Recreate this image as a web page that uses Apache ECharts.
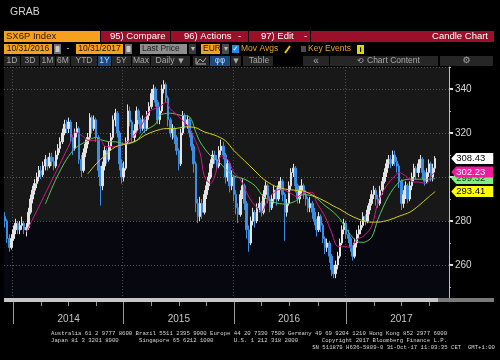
<!DOCTYPE html>
<html><head><meta charset="utf-8">
<script src="https://cdn.jsdelivr.net/npm/echarts@6/dist/echarts.min.js"></script>
<style>html,body{margin:0;padding:0;background:#000;}#c{width:500px;height:360px;}</style>
</head><body><div id="c"></div>
<script>
// Weekly categories (Friday of each week), Dec 2013 .. Dec 2017
const startWeek = Date.UTC(2013, 11, 6);
const weekCount = 210;
const weeks = [];
for (let i = 0; i < weekCount; i++) weeks.push(new Date(startWeek + i * 7 * 86400000).toISOString().slice(0, 10));

// SX6P Index weekly candles: [open, close, low, high]
const candles = [
[282,280,277,284],[280,272,270,281],[272,268,266,274],[268,272,267,274],[272,276,271,278],
[276,279,274,281],[279,276,274,280],[276,278,274,280],[278,279,276,282],[279,276,274,280],
[276,277,273,279],[277,284,276,286],[284,290,283,292],[290,294,288,296],[294,297,292,299],
[297,300,295,302],[300,303,298,305],[303,301,299,305],[301,305,300,307],[305,308,303,310],
[308,305,303,309],[305,309,304,311],[309,307,305,311],[307,305,303,309],[305,310,304,312],
[310,313,308,315],[313,316,311,318],[316,320,315,322],[320,324,319,326],[324,322,320,326],
[322,325,320,327],[325,318,316,326],[318,313,310,319],[313,320,312,322],[320,322,318,325],
[322,308,306,323],[308,303,300,310],[303,311,302,313],[311,315,309,317],[315,318,313,320],
[318,327,317,329],[327,322,320,328],[322,326,321,328],[326,318,316,327],[318,303,300,319],
[303,296,287,305],[296,305,294,307],[305,312,303,314],[312,308,306,313],[308,314,307,316],
[314,318,312,320],[318,326,317,328],[326,329,323,331],[329,320,318,330],[320,306,303,321],
[306,300,297,308],[300,304,298,307],[304,316,303,318],[316,330,315,333],[330,325,323,332],
[325,318,316,326],[318,321,316,324],[321,330,320,332],[330,326,324,331],[326,322,320,327],
[322,326,321,328],[326,322,320,327],[322,328,321,330],[328,332,326,334],[332,338,331,340],
[338,340,335,342],[340,334,332,341],[334,326,324,335],[326,330,324,332],[330,340,329,342],
[340,342,338,344],[342,336,334,343],[336,326,323,337],[326,320,318,327],[320,322,317,324],
[322,318,315,323],[318,312,310,319],[312,306,303,313],[306,320,305,322],[320,328,319,330],
[328,324,322,329],[324,326,322,328],[326,320,318,327],[320,314,312,321],[314,306,302,315],
[306,288,284,307],[288,282,279,290],[282,288,280,291],[288,284,281,290],[284,292,283,294],
[292,296,290,298],[296,300,294,302],[300,306,299,308],[306,310,304,312],[310,308,306,312],
[308,305,303,310],[305,312,304,314],[312,314,310,317],[314,310,308,316],[310,300,297,311],
[300,306,298,308],[306,296,293,307],[296,300,294,303],[300,292,289,301],[292,286,283,294],
[286,283,279,288],[283,292,282,294],[292,296,290,299],[296,288,285,297],[288,276,272,289],
[276,270,266,278],[270,280,269,282],[280,284,278,286],[284,280,277,285],[280,286,279,288],
[286,288,284,291],[288,284,282,289],[284,292,283,294],[292,296,290,298],[296,290,288,297],
[290,286,284,291],[286,290,285,292],[290,294,288,296],[294,290,287,295],[290,296,289,298],
[296,298,294,300],[298,292,289,299],[292,284,271,293],[284,288,282,290],[288,296,287,298],
[296,302,294,304],[302,304,300,306],[304,296,293,305],[296,290,288,297],[290,294,288,296],
[294,296,292,299],[296,292,290,297],[292,290,287,294],[290,286,284,291],[286,288,284,291],
[288,284,281,289],[284,280,278,286],[280,276,273,281],[276,282,275,284],[282,278,275,283],
[278,272,270,279],[272,268,265,273],[268,270,266,272],[270,264,261,271],[264,258,255,265],
[258,256,254,260],[256,260,254,262],[260,264,258,266],[264,270,263,272],[270,276,269,278],
[276,279,274,281],[279,274,272,280],[274,272,270,276],[272,268,266,273],[268,264,262,269],
[264,270,263,272],[270,274,268,276],[274,276,272,278],[276,278,274,280],[278,282,277,284],
[282,280,278,283],[280,285,279,287],[285,288,283,290],[288,292,287,294],[292,294,290,296],
[294,290,287,295],[290,288,286,292],[288,294,287,296],[294,298,292,300],[298,302,297,304],
[302,306,300,308],[306,308,304,310],[308,306,304,310],[306,310,305,312],[310,307,305,312],
[307,305,302,309],[305,298,295,306],[298,288,285,299],[288,292,286,294],[292,296,290,298],
[296,290,288,297],[290,296,289,298],[296,300,294,302],[300,304,298,306],[304,302,299,305],
[302,306,300,308],[306,308,304,310],[308,302,299,309],[302,298,296,303],[298,302,297,304],
[302,306,300,308],[306,300,298,307],[300,304,298,306],[304,308.43,302,309.5]
];

// Moving averages: [week index, value]
const maShort = [[10,275],[31,316],[33,320.5],[36,319],[40,316.5],[45,317],[47,314],[51,313.7],[54,314],[59,317],[64,323],[68,329.7],[73,332],[76,334],[78,331],[83,326.5],[87,322],[92,311],[94,300.5],[97,297],[99,300.5],[102,309.6],[105,308],[108,302],[111,299],[115,291],[118,287],[121,284],[124,290],[127,293],[130,294.5],[134,293],[138,291],[141,293],[145,293],[147,288.5],[151,282],[154,275],[157,268.5],[160,268.5],[163,268],[166,271.7],[169,273],[173,277.6],[176,288.5],[180,296],[184,300.5],[186,302],[189,300.5],[193,297.7],[195,297.7],[199,297],[201,300.5],[203,302.23]];
const maMid = [[19,287.7],[24,299],[29,308],[33,313],[38,316],[43,318],[45,317],[50,316],[52,316],[57,315],[62,316.5],[66,321],[71,324],[73,328],[78,329],[83,328],[87,327.4],[90,320.5],[92,316],[97,309.6],[101,306.8],[104,303.7],[108,300.5],[113,299],[118,296],[122,291],[127,288.5],[132,287.7],[137,289],[141,292],[146,291],[151,287],[155,284],[158,281],[162,275],[166,270.8],[169,270.3],[173,272.6],[176,280.8],[181,291.3],[186,297.7],[191,299],[195,299],[200,299],[203,299.32]];
const maLong = [[39,301.4],[43,306],[47,309.6],[52,313.7],[57,315],[62,316.5],[66,319],[71,321],[76,322],[80,322],[85,322.8],[90,322.4],[94,320.5],[99,319],[104,316.5],[108,312],[113,307.4],[118,302.7],[122,299],[127,296],[132,294.5],[137,294],[141,293.6],[146,291.3],[151,289],[155,286.8],[158,285.4],[162,283],[167,280.8],[172,279.5],[176,279.5],[181,280.4],[186,282.2],[191,284],[195,286.8],[200,291],[203,293.41]];

const yMin = 245, yMax = 350;

const UI_FONT = 'Liberation Sans, Arial, sans-serif';
const MONO = 'Liberation Mono, DejaVu Sans Mono, monospace';
const ORANGE = '#f6a11e', RED = '#9c0f2b', BTN = '#262626', BTN_TXT = '#a8a8a8';

function box(x, y, w, h, fill, z) {
  return {type: 'rect', shape: {x: x, y: y, width: w, height: h}, style: {fill: fill}, z: z || 1, silent: true};
}
function txt(x, y, text, fill, size, align, family, weight) {
  return {type: 'text', x: x, y: y, z: 2, silent: true,
    style: {text: text, fill: fill, fontSize: size || 9, fontFamily: family || UI_FONT, fontWeight: weight || 'normal',
      align: align || 'left', verticalAlign: 'middle', textAlign: align || 'left', textVerticalAlign: 'middle'}};
}

const graphics = [];
graphics.push(txt(10, 12, 'GRAB', '#d4d4d4', 10.5));
// row 1
graphics.push(box(4, 31, 96, 11, ORANGE), txt(6, 36.5, 'SX6P Index', '#2a1600', 9.5));
graphics.push(box(101, 31, 69, 11, RED), txt(110, 36.5, '95) Compare', '#ffffff', 9.5));
graphics.push(box(171, 31, 77, 11, RED), txt(184, 36.5, '96) Actions', '#ffffff', 9.5), txt(238, 36.5, '-', '#ffffff', 9.5));
graphics.push(box(249, 31, 61, 11, RED), txt(261, 36.5, '97) Edit', '#ffffff', 9.5), txt(304, 36.5, '-', '#ffffff', 9.5));
graphics.push(box(311, 31, 183, 11, RED), txt(488, 36.5, 'Candle Chart', '#ffffff', 9.5, 'right'));
// row 2
graphics.push(box(4, 44, 48, 10, ORANGE), txt(28, 49, '10/31/2016', '#1a1000', 8.5, 'center'));
graphics.push(box(54, 44, 7, 10, '#6e6e6e'), box(55.5, 46, 4, 6, '#c8c8c8', 2));
graphics.push(txt(68, 49, '-', '#dddddd', 9, 'center'));
graphics.push(box(76, 44, 47, 10, ORANGE), txt(99.5, 49, '10/31/2017', '#1a1000', 8.5, 'center'));
graphics.push(box(125, 44, 7, 10, '#6e6e6e'), box(126.5, 46, 4, 6, '#c8c8c8', 2));
graphics.push(box(140, 44, 47, 10, '#8e8e8e'), txt(142, 49, 'Last Price', '#1e1e1e', 8.5));
graphics.push(box(189, 44, 7, 10, '#3a3a3a'), txt(192.5, 49, '▾', '#bbbbbb', 8, 'center'));
graphics.push(box(201, 44, 19, 10, ORANGE), txt(203, 49, 'EUR', '#1a1000', 8.5));
graphics.push(box(222, 44, 7, 10, '#4a4a4a'), txt(225.5, 49, '▾', '#bbbbbb', 8, 'center'));
graphics.push(box(232, 45, 7, 8, '#2f86dc'), txt(235.5, 49, '✓', '#ffffff', 7, 'center', 'DejaVu Sans'));
graphics.push(txt(241, 49, 'Mov Avgs', '#eea030', 8.5));
graphics.push({type: 'line', shape: {x1: 285, y1: 53, x2: 290, y2: 46}, style: {stroke: '#f2c200', lineWidth: 2}, z: 2, silent: true});
graphics.push(box(301, 46, 5, 6, '#4c4c4c'), txt(308, 49, 'Key Events', '#eea030', 8.5));
graphics.push(box(357, 45, 7, 9, '#e6d600'), txt(360.5, 49.5, 'i', '#000000', 8, 'center', UI_FONT, 'bold'));
// row 3
const buttons = [[4, 16, '1D'], [21, 18, '3D'], [40, 15, '1M'], [56, 14, '6M'], [71, 26, 'YTD'], [98, 13, '1Y', true], [112, 19, '5Y'], [132, 18, 'Max']];
buttons.forEach(function (b) {
  graphics.push(box(b[0], 56, b[1], 10, b[3] ? '#1d4a7c' : BTN), txt(b[0] + b[1] / 2, 61, b[2], b[3] ? '#a8d4ff' : BTN_TXT, 8.5, 'center'));
});
graphics.push(box(151, 56, 39, 10, BTN), txt(165, 61, 'Daily', BTN_TXT, 8.5, 'center'), txt(181, 61, '▼', BTN_TXT, 7, 'center', 'DejaVu Sans'));
graphics.push(box(193, 56, 16, 10, BTN), {type: 'polyline', shape: {points: [[196, 58], [196, 64], [206, 64]]}, style: {stroke: '#b0b0b0', lineWidth: 1, fill: null}, z: 2, silent: true},
  {type: 'polyline', shape: {points: [[197, 63], [200, 59], [203, 62], [206, 58]]}, style: {stroke: '#b0b0b0', lineWidth: 1, fill: null}, z: 2, silent: true});
graphics.push(box(210, 56, 20, 10, '#1d4a7c'), txt(220, 61, 'φφ', '#a8d4ff', 8, 'center', 'DejaVu Sans'));
graphics.push(box(231, 56, 10, 10, BTN), txt(236, 61, '▼', BTN_TXT, 7, 'center', 'DejaVu Sans'));
graphics.push(box(243, 56, 30, 10, BTN), txt(259, 61, 'Table', BTN_TXT, 8.5, 'center'));
graphics.push(box(303, 56, 26, 10, BTN), txt(316, 61, '«', BTN_TXT, 10, 'center'));
graphics.push(box(330, 56, 108, 10, BTN), txt(360, 61, '⟲', BTN_TXT, 8, 'center', 'DejaVu Sans'), txt(367, 61, 'Chart Content', BTN_TXT, 8.5));
graphics.push(box(440, 56, 53, 10, BTN), txt(466.5, 61, '⚙', BTN_TXT, 9, 'center', 'DejaVu Sans'));
// scroll bar under plot
graphics.push(box(4, 298, 434, 4, '#c6c6c6', 10), box(438, 298, 56, 4, '#7a7a7a', 10));
// footer
const footer1 = 'Australia 61 2 9777 8600 Brazil 5511 2395 9000 Europe 44 20 7330 7500 Germany 49 69 9204 1210 Hong Kong 852 2977 6000';
const footer2 = 'Japan 81 3 3201 8900      Singapore 65 6212 1000      U.S. 1 212 318 2000       Copyright 2017 Bloomberg Finance L.P.';
const footer3 = 'SN 511879 H636-5809-0 31-Oct-17 11:03:35 CET  GMT+1:00';
graphics.push(txt(51, 333, footer1, '#d6d6d6', 5.65, 'left', MONO));
graphics.push(txt(51, 340, footer2, '#d6d6d6', 5.65, 'left', MONO));
graphics.push(txt(495, 347, footer3, '#d6d6d6', 5.65, 'right', MONO));

function dateOf(i) { return new Date(weeks[i] + 'T00:00:00Z'); }
function isQuarterStart(i) { const d = dateOf(i); return d.getUTCDate() <= 7 && d.getUTCMonth() % 3 === 0; }
function isYearStart(i) { const d = dateOf(i); return d.getUTCDate() <= 7 && d.getUTCMonth() === 0; }
function isMidYear(i) { const d = dateOf(i); return d.getUTCDate() <= 7 && d.getUTCMonth() === 6; }

const lastIdx = candles.length - 1;
function priceTag(idx, value, bg, fg, z) {
  return {z: z, silent: true, animation: false,
    symbol: 'path://M0,5L5,0L42,0L42,10L5,10Z', symbolSize: [42, 11], symbolOffset: [37, 0],
    itemStyle: {color: bg},
    label: {show: true, position: 'insideLeft', distance: 5, color: fg, fontSize: 9.5, fontFamily: UI_FONT,
      formatter: function (p) { return Number(p.value).toFixed(2); }},
    data: [{coord: [idx, value], value: value}]};
}

const option = {
  backgroundColor: '#000000',
  animation: false,
  grid: {left: 4, right: 51, top: 67, bottom: 62, containLabel: false, outerBoundsMode: 'none'},
  graphic: graphics,
  xAxis: [
    {type: 'category', data: weeks, position: 'bottom', offset: 4, boundaryGap: true,
      axisLine: {show: false},
      axisTick: {show: true, alignWithLabel: true, length: 4, interval: function (i) { return isQuarterStart(i); }, lineStyle: {color: '#9a9a9a'}},
      axisLabel: {show: true, interval: function (i) { return isMidYear(i); }, formatter: function (v) { return v.slice(0, 4); },
        color: '#c4c4c4', fontSize: 10, fontFamily: UI_FONT, margin: 12},
      splitLine: {show: true, interval: function (i) { return isYearStart(i); }, lineStyle: {color: '#4c4c4c', type: [1, 2]}}},
    {type: 'category', data: weeks, position: 'bottom', offset: 4, boundaryGap: true, gridIndex: 0,
      axisLine: {show: false},
      axisTick: {show: true, alignWithLabel: true, length: 22, interval: function (i) { return isYearStart(i); }, lineStyle: {color: '#9a9a9a'}},
      axisLabel: {show: false}, splitLine: {show: false}}
  ],
  yAxis: [
    {type: 'value', position: 'right', min: yMin, max: yMax, splitNumber: 5, scale: true,
      axisLine: {show: true, lineStyle: {color: '#bdbdbd', width: 1}},
      axisTick: {show: true, length: 4, lineStyle: {color: '#e0e0e0', width: 2}},
      axisLabel: {color: '#d6d6d6', fontSize: 10, fontFamily: UI_FONT, margin: 6, showMinLabel: false, showMaxLabel: false},
      splitLine: {show: true, lineStyle: {color: '#555555', type: [1, 2]}},
      splitArea: {show: true, areaStyle: {color: ['#07070f', '#07070f', '#181818', '#181818', '#181818', '#181818']}}},
    {type: 'value', position: 'right', min: yMin, max: yMax, splitNumber: 10, scale: true,
      axisLine: {show: false}, axisTick: {show: true, length: 2, lineStyle: {color: '#bdbdbd'}},
      axisLabel: {show: false}, splitLine: {show: false}}
  ],
  series: [
    {type: 'candlestick', name: 'SX6P', data: candles, barWidth: 2, z: 2,
      itemStyle: {color: '#e4e4e4', color0: '#3a8ee6', borderColor: '#e4e4e4', borderColor0: '#3a8ee6', borderWidth: 1},
      markPoint: priceTag(lastIdx, candles[lastIdx][1], '#ffffff', '#000000', 9)},
    {type: 'line', name: 'MA mid', data: maMid, symbol: 'none', smooth: 0.3, z: 3,
      lineStyle: {color: '#58c858', width: 1},
      markPoint: priceTag(lastIdx, maMid[maMid.length - 1][1], '#7ff07f', '#1a3a1a', 6)},
    {type: 'line', name: 'MA short', data: maShort, symbol: 'none', smooth: 0.3, z: 3,
      lineStyle: {color: '#d0168a', width: 1},
      markPoint: priceTag(lastIdx, maShort[maShort.length - 1][1], '#ee1c9c', '#ffffff', 7)},
    {type: 'line', name: 'MA long', data: maLong, symbol: 'none', smooth: 0.3, z: 3,
      lineStyle: {color: '#d8d020', width: 1},
      markPoint: priceTag(lastIdx, maLong[maLong.length - 1][1], '#ffff00', '#000000', 8)}
  ]
};

const chart = echarts.init(document.getElementById('c'), null, {renderer: 'canvas', width: 500, height: 360});
chart.setOption(option);
</script>
</body></html>
